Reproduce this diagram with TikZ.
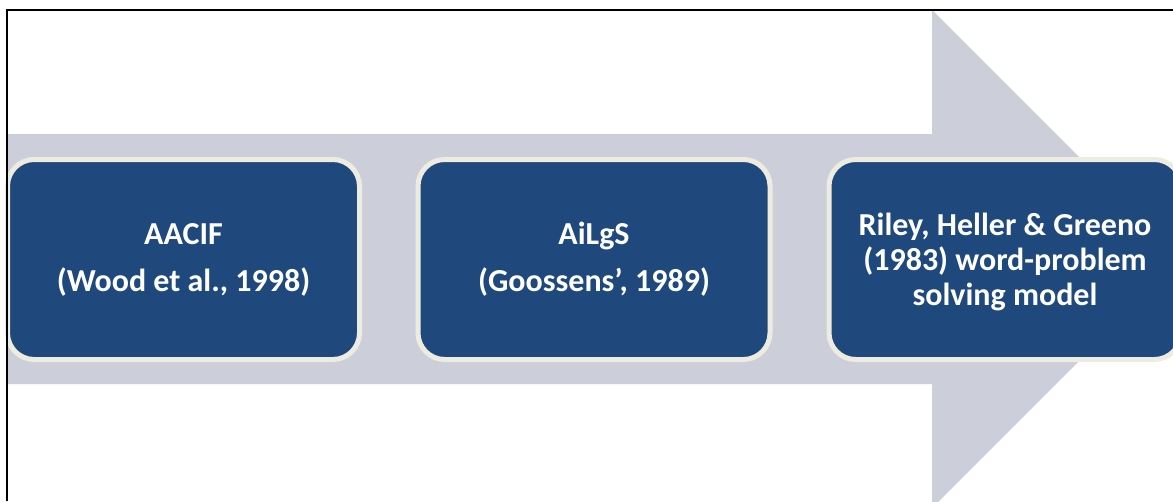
\documentclass[tikz,border=0pt]{standalone}
\usepackage{fontspec}
\setmainfont{Carlito}
\usepackage{tikz}
\definecolor{bandgray}{RGB}{204,207,217}
\definecolor{boxblue}{RGB}{31,73,125}
\definecolor{boxrim}{RGB}{238,236,225}

\begin{document}
\begin{tikzpicture}[x=0.75pt,y=0.75pt,
  stage/.style={draw=boxrim,line width=3.75pt,fill=boxblue,rounded corners=20pt,
    minimum width=264pt,minimum height=150pt,text=white,align=center,
    font=\fontsize{24}{26.25}\selectfont\bfseries}]
\useasboundingbox (0,0) rectangle (1173,501);
% big grey arrow behind the boxes
\fill[bandgray] (7,117) -- (932,117) -- (932,-7) -- (1181,242) -- (932,491) -- (932,367) -- (7,367) -- cycle;
% the three stages
\node[stage] (aacif) at (183.5,241.5) {AACIF\\[9pt](Wood et al., 1998)};
\node[stage] (ailgs) at (594,241.5) {AiLgS\\[9pt](Goossens’, 1989)};
\node[stage,text depth=0pt] (riley) at (1005,241.5) {Riley, Heller \& Greeno\\(1983) word-problem\\solving model};
% frame lines
\draw[line width=1.5pt] (7,0) -- (7,491) -- (1173,491);
\end{tikzpicture}
\end{document}
